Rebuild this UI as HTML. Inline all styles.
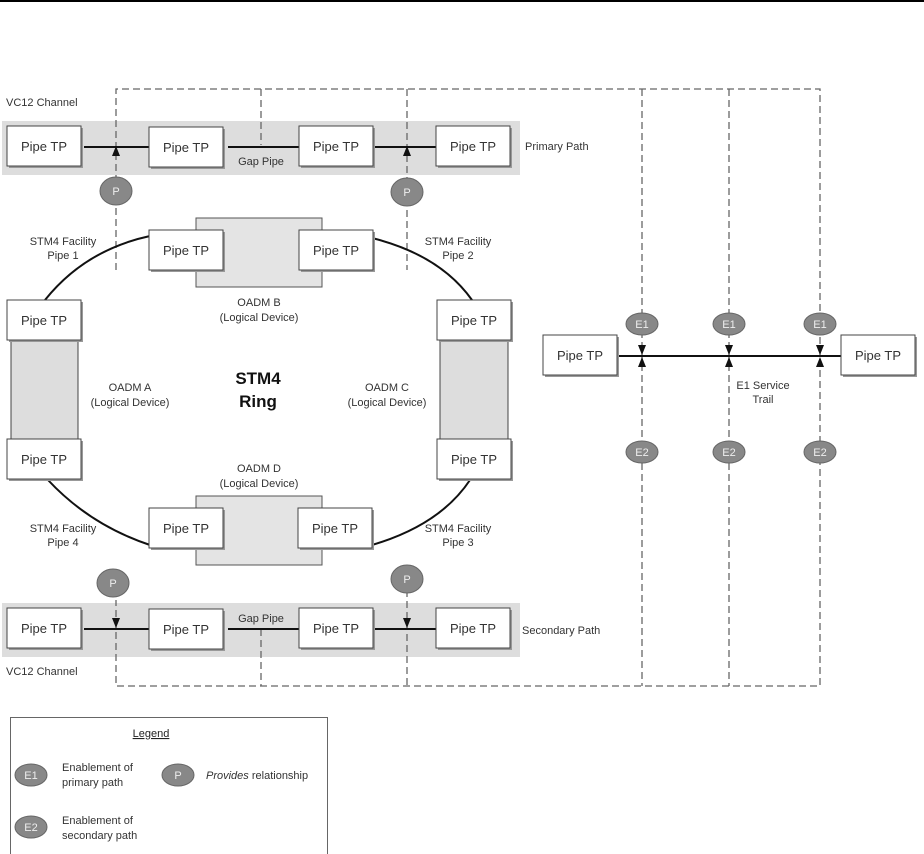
<!DOCTYPE html>
<html><head><meta charset="utf-8"><style>
html,body{margin:0;padding:0;background:#fff;}
svg{display:block;}
text{font-family:"Liberation Sans",Arial,sans-serif;fill:#333;}
</style></head><body>
<svg width="924" height="854" viewBox="0 0 924 854" xmlns="http://www.w3.org/2000/svg">
<defs>
<g id="tp">
<rect x="2" y="2" width="74" height="40" fill="#999"/>
<rect x="0" y="0" width="74" height="40" fill="#fff" stroke="#444" stroke-width="1"/>
<text x="37" y="25" text-anchor="middle" font-size="13">Pipe TP</text>
</g>
</defs>
<line x1="0" y1="1" x2="924" y2="1" stroke="#000" stroke-width="2"/>

<rect x="10.5" y="717.5" width="317" height="140" fill="#fff" stroke="#666"/>

<rect x="2" y="121" width="518" height="54" fill="#ddd"/>
<rect x="2" y="603" width="518" height="54" fill="#ddd"/>

<g stroke="#666" stroke-width="1.3" stroke-dasharray="7,4" fill="none">
<path d="M116,270 V89 H820 V686 H116 V600"/>
<path d="M261,89 V145"/>
<path d="M407,89 V270"/>
<path d="M642,89 V686"/>
<path d="M729,89 V686"/>
<path d="M261,629 V686"/>
<path d="M407,590 V686"/>
</g>

<g stroke="#111" stroke-width="2">
<line x1="84" y1="147" x2="152" y2="147"/>
<line x1="228" y1="147" x2="300" y2="147"/>
<line x1="374" y1="147" x2="436" y2="147"/>
<line x1="84" y1="629" x2="152" y2="629"/>
<line x1="228" y1="629" x2="300" y2="629"/>
<line x1="374" y1="629" x2="436" y2="629"/>
<line x1="617" y1="356" x2="843" y2="356"/>
</g>
<g fill="#111">
<path d="M112,156 L120,156 L116,146 Z"/>
<path d="M403,156 L411,156 L407,146 Z"/>
<path d="M112,618 L120,618 L116,628 Z"/>
<path d="M403,618 L411,618 L407,628 Z"/>
<path d="M638,345 L646,345 L642,355 Z"/><path d="M638,367 L646,367 L642,357 Z"/>
<path d="M725,345 L733,345 L729,355 Z"/><path d="M725,367 L733,367 L729,357 Z"/>
<path d="M816,345 L824,345 L820,355 Z"/><path d="M816,367 L824,367 L820,357 Z"/>
</g>

<g stroke="#111" stroke-width="2" fill="none">
<path d="M45,300 Q85,250 150,236"/>
<path d="M372,238 Q440,255 472,300"/>
<path d="M48,480 Q90,525 150,545"/>
<path d="M372,545 Q440,525 470,480"/>
</g>

<rect x="196" y="218" width="126" height="69" fill="#e4e4e4" stroke="#555"/>
<rect x="196" y="496" width="126" height="69" fill="#e4e4e4" stroke="#555"/>
<rect x="11" y="338" width="67" height="104" fill="#ddd" stroke="#444"/>
<rect x="440" y="338" width="68" height="104" fill="#ddd" stroke="#444"/>

<use href="#tp" x="7" y="126"/>
<use href="#tp" x="149" y="127"/>
<use href="#tp" x="299" y="126"/>
<use href="#tp" x="436" y="126"/>
<use href="#tp" x="149" y="230"/>
<use href="#tp" x="299" y="230"/>
<use href="#tp" x="7" y="300"/>
<use href="#tp" x="7" y="439"/>
<use href="#tp" x="437" y="300"/>
<use href="#tp" x="437" y="439"/>
<use href="#tp" x="149" y="508"/>
<use href="#tp" x="298" y="508"/>
<use href="#tp" x="7" y="608"/>
<use href="#tp" x="149" y="609"/>
<use href="#tp" x="299" y="608"/>
<use href="#tp" x="436" y="608"/>
<use href="#tp" x="543" y="335"/>
<use href="#tp" x="841" y="335"/>

<g fill="#888" stroke="#666">
<ellipse cx="116" cy="191" rx="16" ry="14"/>
<ellipse cx="407" cy="192" rx="16" ry="14"/>
<ellipse cx="113" cy="583" rx="16" ry="14"/>
<ellipse cx="407" cy="579" rx="16" ry="14"/>
<ellipse cx="642" cy="324" rx="16" ry="11"/>
<ellipse cx="729" cy="324" rx="16" ry="11"/>
<ellipse cx="820" cy="324" rx="16" ry="11"/>
<ellipse cx="642" cy="452" rx="16" ry="11"/>
<ellipse cx="729" cy="452" rx="16" ry="11"/>
<ellipse cx="820" cy="452" rx="16" ry="11"/>
<ellipse cx="31" cy="775" rx="16" ry="11"/>
<ellipse cx="178" cy="775" rx="16" ry="11"/>
<ellipse cx="31" cy="827" rx="16" ry="11"/>
</g>
<g font-size="11" text-anchor="middle">
<text x="116" y="195" style="fill:#eee">P</text>
<text x="407" y="196" style="fill:#eee">P</text>
<text x="113" y="587" style="fill:#eee">P</text>
<text x="407" y="583" style="fill:#eee">P</text>
<text x="642" y="328" style="fill:#eee">E1</text>
<text x="729" y="328" style="fill:#eee">E1</text>
<text x="820" y="328" style="fill:#eee">E1</text>
<text x="642" y="456" style="fill:#eee">E2</text>
<text x="729" y="456" style="fill:#eee">E2</text>
<text x="820" y="456" style="fill:#eee">E2</text>
<text x="31" y="779" style="fill:#eee">E1</text>
<text x="178" y="779" style="fill:#eee">P</text>
<text x="31" y="831" style="fill:#eee">E2</text>
</g>

<g font-size="11">
<text x="6" y="106">VC12 Channel</text>
<text x="6" y="675">VC12 Channel</text>
<text x="525" y="150">Primary Path</text>
<text x="522" y="634">Secondary Path</text>
</g>
<g font-size="11" text-anchor="middle">
<text x="261" y="165">Gap Pipe</text>
<text x="261" y="622">Gap Pipe</text>
<text x="63" y="245">STM4 Facility</text><text x="63" y="259">Pipe 1</text>
<text x="458" y="245">STM4 Facility</text><text x="458" y="259">Pipe 2</text>
<text x="63" y="532">STM4 Facility</text><text x="63" y="546">Pipe 4</text>
<text x="458" y="532">STM4 Facility</text><text x="458" y="546">Pipe 3</text>
<text x="259" y="306">OADM B</text><text x="259" y="321">(Logical Device)</text>
<text x="130" y="391">OADM A</text><text x="130" y="406">(Logical Device)</text>
<text x="387" y="391">OADM C</text><text x="387" y="406">(Logical Device)</text>
<text x="259" y="472">OADM D</text><text x="259" y="487">(Logical Device)</text>
<text x="763" y="389">E1 Service</text><text x="763" y="403">Trail</text>
</g>
<g font-size="17" font-weight="bold" text-anchor="middle">
<text x="258" y="384" style="fill:#111">STM4</text>
<text x="258" y="407" style="fill:#111">Ring</text>
</g>

<text x="151" y="737" font-size="11" text-anchor="middle" text-decoration="underline" style="fill:#222">Legend</text>
<g font-size="11">
<text x="62" y="771">Enablement of</text><text x="62" y="786">primary path</text>
<text x="62" y="824">Enablement of</text><text x="62" y="839">secondary path</text>
<text x="206" y="779"><tspan font-style="italic">Provides</tspan> relationship</text>
</g>
</svg>
</body></html>
